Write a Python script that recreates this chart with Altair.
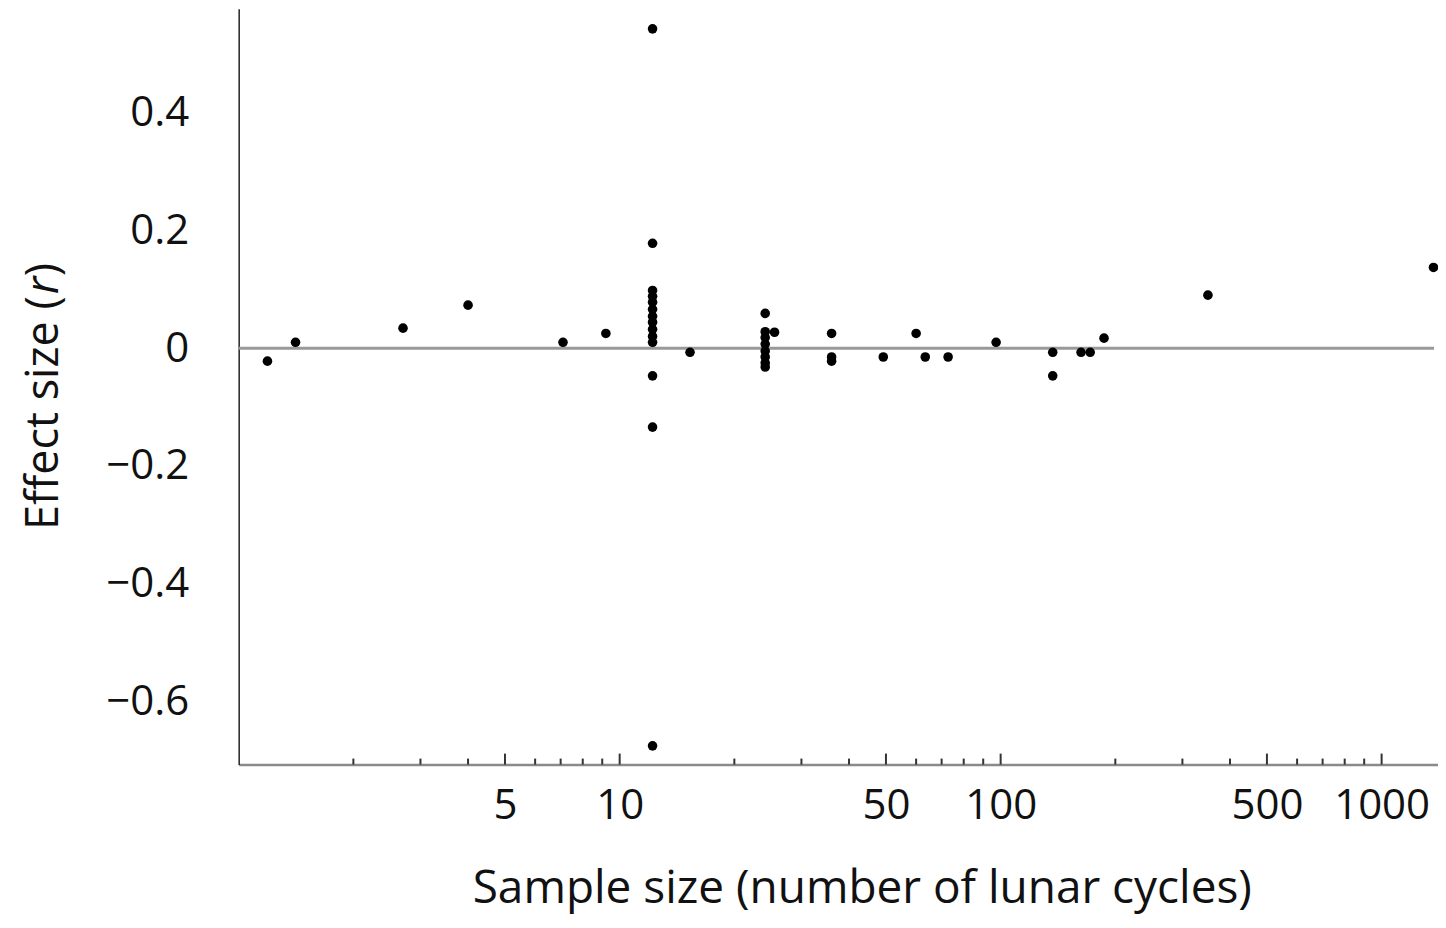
import altair as alt
import pandas as pd

sample_size = [1.19, 1.41, 2.7, 4.0, 7.1, 9.2,
               12.2, 12.2, 12.2, 12.2, 12.2, 12.2, 12.2, 12.2, 12.2, 12.2, 12.2, 12.2, 12.2, 12.2,
               15.3,
               24.1, 24.1, 24.1, 24.1, 24.1, 24.1, 24.1, 24.1,
               25.5,
               36, 36, 36,
               49.2, 60, 63.4, 72.8, 97.3,
               137, 137, 162.6, 171.8, 186.8,
               350, 1368]
effect_size = [-0.022, 0.010, 0.034, 0.073, 0.010, 0.025,
               0.542, 0.178, 0.098, 0.088, 0.078, 0.066, 0.054, 0.044, 0.032, 0.020, 0.010, -0.047, -0.134, -0.675,
               -0.007,
               0.059, 0.028, 0.018, 0.007, -0.005, -0.015, -0.025, -0.032,
               0.027,
               0.025, -0.015, -0.022,
               -0.015, 0.025, -0.015, -0.015, 0.010,
               -0.007, -0.047, -0.007, -0.007, 0.017,
               0.090, 0.137]

x_labels = [5, 10, 50, 100, 500, 1000]
major_ticks = [5, 10, 50, 100, 500, 1000]
minor_ticks = [2, 3, 4, 6, 7, 8, 9, 20, 30, 40, 60, 70, 80, 90,
               200, 300, 400, 600, 700, 800, 900]
y_labels = [-0.6, -0.4, -0.2, 0, 0.2, 0.4]
y_title_parts = ["Effect size (", "r", ")"]

W, H = 1201, 757
FONT = "Open Sans"
TCOL = "#111"

pts = pd.DataFrame({"n": sample_size, "r": effect_size})

xscale = alt.Scale(type="log", domain=[1, 1406], nice=False)
yscale = alt.Scale(domain=[-0.7068, 0.5763], nice=False, zero=False)

points = alt.Chart(pts).mark_circle(size=92, color="black", opacity=1).encode(
    x=alt.X("n:Q", scale=xscale,
            axis=alt.Axis(values=x_labels, format="d", ticks=False, grid=False,
                          domainColor="#8a8a8a", domainWidth=2.5,
                          labelFontSize=42, labelFont=FONT, labelColor=TCOL,
                          labelPadding=21, labelFlush=False,
                          title="Sample size (number of lunar cycles)",
                          titleFont=FONT, titleFontSize=46, titleFontWeight="normal",
                          titleColor=TCOL, titleX=624, titleY=138,
                          titleBaseline="alphabetic", titleAnchor="middle")),
    y=alt.Y("r:Q", scale=yscale,
            axis=alt.Axis(values=y_labels, ticks=False, grid=False,
                          domainColor="#222", domainWidth=1.5,
                          labelExpr="datum.value == 0 ? '0' : format(datum.value, '.1f')",
                          labelFontSize=42, labelFont=FONT, labelColor=TCOL,
                          labelPadding=50, title=None)),
)

zero = alt.Chart(pd.DataFrame({"r": [0]})).mark_rule(color="#999", strokeWidth=3).encode(
    y=alt.Y("r:Q", scale=yscale),
    x=alt.value(0), x2=alt.value(W - 4))

major_marks = alt.Chart(pd.DataFrame({"n": major_ticks})).mark_rule(color="#333", strokeWidth=2).encode(
    x=alt.X("n:Q", scale=xscale),
    y=alt.value(H), y2=alt.value(H - 11))
minor_marks = alt.Chart(pd.DataFrame({"n": minor_ticks})).mark_rule(color="#333", strokeWidth=2).encode(
    x=alt.X("n:Q", scale=xscale),
    y=alt.value(H), y2=alt.value(H - 6))

# y-axis title with italic r, drawn as rotated text pieces
TX = -181
TY0 = 522
FS = 45
title_a = alt.Chart(pd.DataFrame({"t": [y_title_parts[0]]})).mark_text(
    font=FONT, fontSize=FS, angle=270, align="left", baseline="alphabetic", color=TCOL
).encode(text="t:N", x=alt.value(TX), y=alt.value(TY0))
title_b = alt.Chart(pd.DataFrame({"t": [y_title_parts[1]]})).mark_text(
    font=FONT, fontSize=FS, fontStyle="italic", angle=270, align="left",
    baseline="alphabetic", color=TCOL
).encode(text="t:N", x=alt.value(TX), y=alt.value(TY0 - 236))
title_c = alt.Chart(pd.DataFrame({"t": [y_title_parts[2]]})).mark_text(
    font=FONT, fontSize=FS, angle=270, align="left", baseline="alphabetic", color=TCOL
).encode(text="t:N", x=alt.value(TX), y=alt.value(TY0 - 254))

chart = alt.layer(zero, major_marks, minor_marks, points, title_a, title_b, title_c).properties(
    width=W, height=H,
    autosize=alt.AutoSizeParams(type="none"),
    padding={"left": 231, "top": 0, "right": 0, "bottom": 155},
).configure(background="white").configure_view(stroke=None)

chart.save("out.html", embed_options={"renderer": "svg", "actions": False})
